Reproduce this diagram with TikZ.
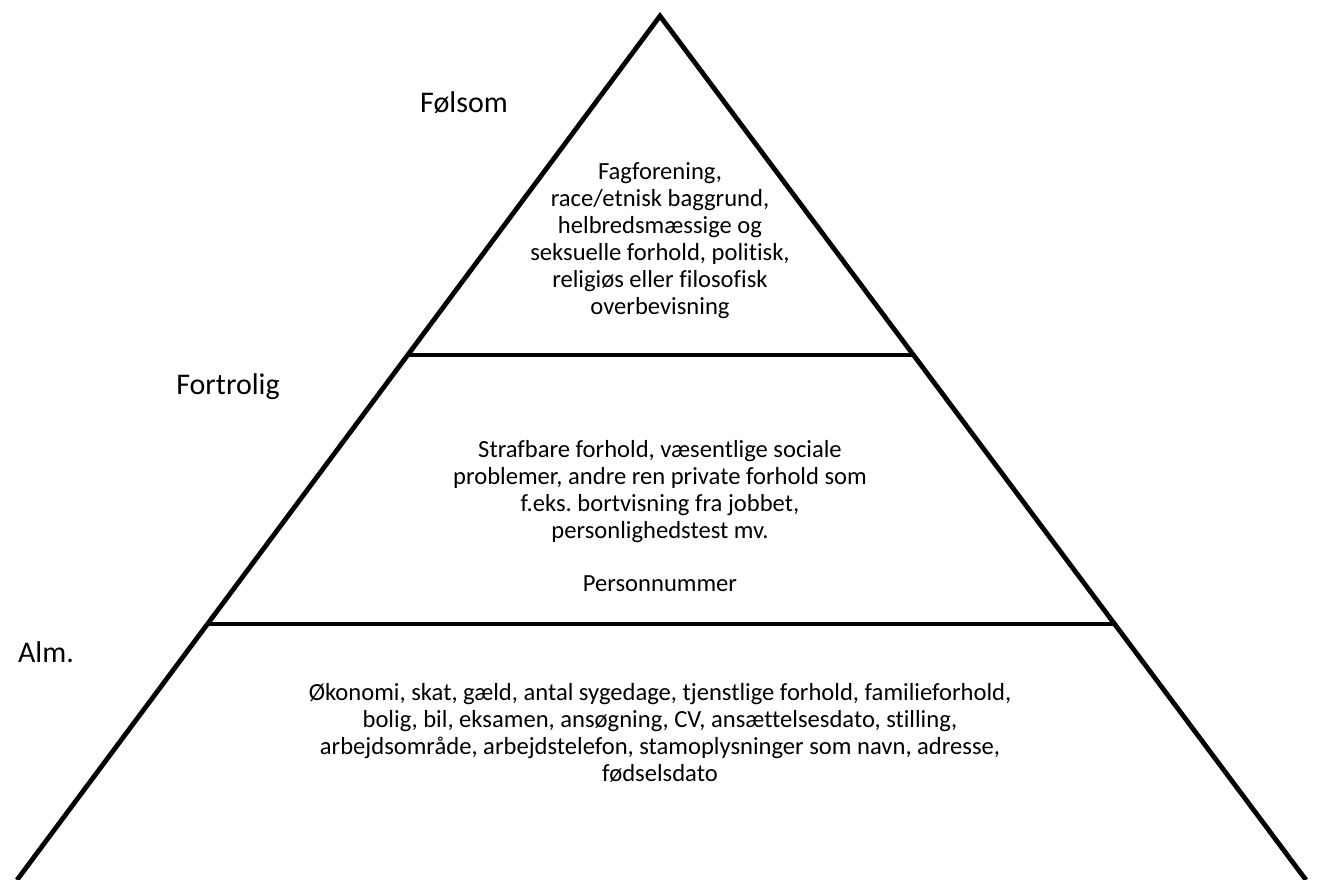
\documentclass[tikz,border=0pt]{standalone}
\usepackage{fontspec}
\setmainfont[Ligatures={NoCommon}]{Carlito}
\begin{document}
\begin{tikzpicture}[x=1pt,y=-1pt,
  edge/.style={line width=4.8pt,black},
  body/.style={font=\fontsize{24.6}{27}\selectfont,inner sep=0pt,align=center,anchor=base},
  lbl/.style={font=\fontsize{30}{32}\selectfont,inner sep=0pt,anchor=base}]
\useasboundingbox (0,0) rectangle (1317,880);
\clip (0,0) rectangle (1317,880);
\coordinate (apex) at (660,16);
\coordinate (bl) at (17,880);
\coordinate (br) at (1306,880);
\coordinate (l1) at (408,355);
\coordinate (r1) at (914,355);
\coordinate (l2) at (208,624);
\coordinate (r2) at (1115,624);
\draw[edge,line join=miter] (bl) -- (apex) -- (br);
\draw[edge] (l1) -- (r1);
\draw[edge] (l2) -- (r2);
\node[lbl] (folsom) at (464,113) {Følsom};
\node[lbl] (fortrolig) at (228,394) {Fortrolig};
\node[lbl] (alm) at (46,662) {Alm.};
\node[body] (top) at (660,314) {Fagforening,\\race/etnisk baggrund,\\helbredsmæssige og\\seksuelle forhold, politisk,\\religiøs eller filosofisk\\overbevisning};
\node[body] (mid) at (660,538) {Strafbare forhold, væsentlige sociale\\problemer, andre ren private forhold som\\f.eks.\ bortvisning fra jobbet,\\personlighedstest mv.};
\node[body] (cpr) at (660,591) {Personnummer};
\node[body] (bot) at (660,781) {Økonomi, skat, gæld, antal sygedage, tjenstlige forhold, familieforhold,\\bolig, bil, eksamen, ansøgning, CV, ansættelsesdato, stilling,\\arbejdsområde, arbejdstelefon, stamoplysninger som navn, adresse,\\fødselsdato};
\end{tikzpicture}
\end{document}
